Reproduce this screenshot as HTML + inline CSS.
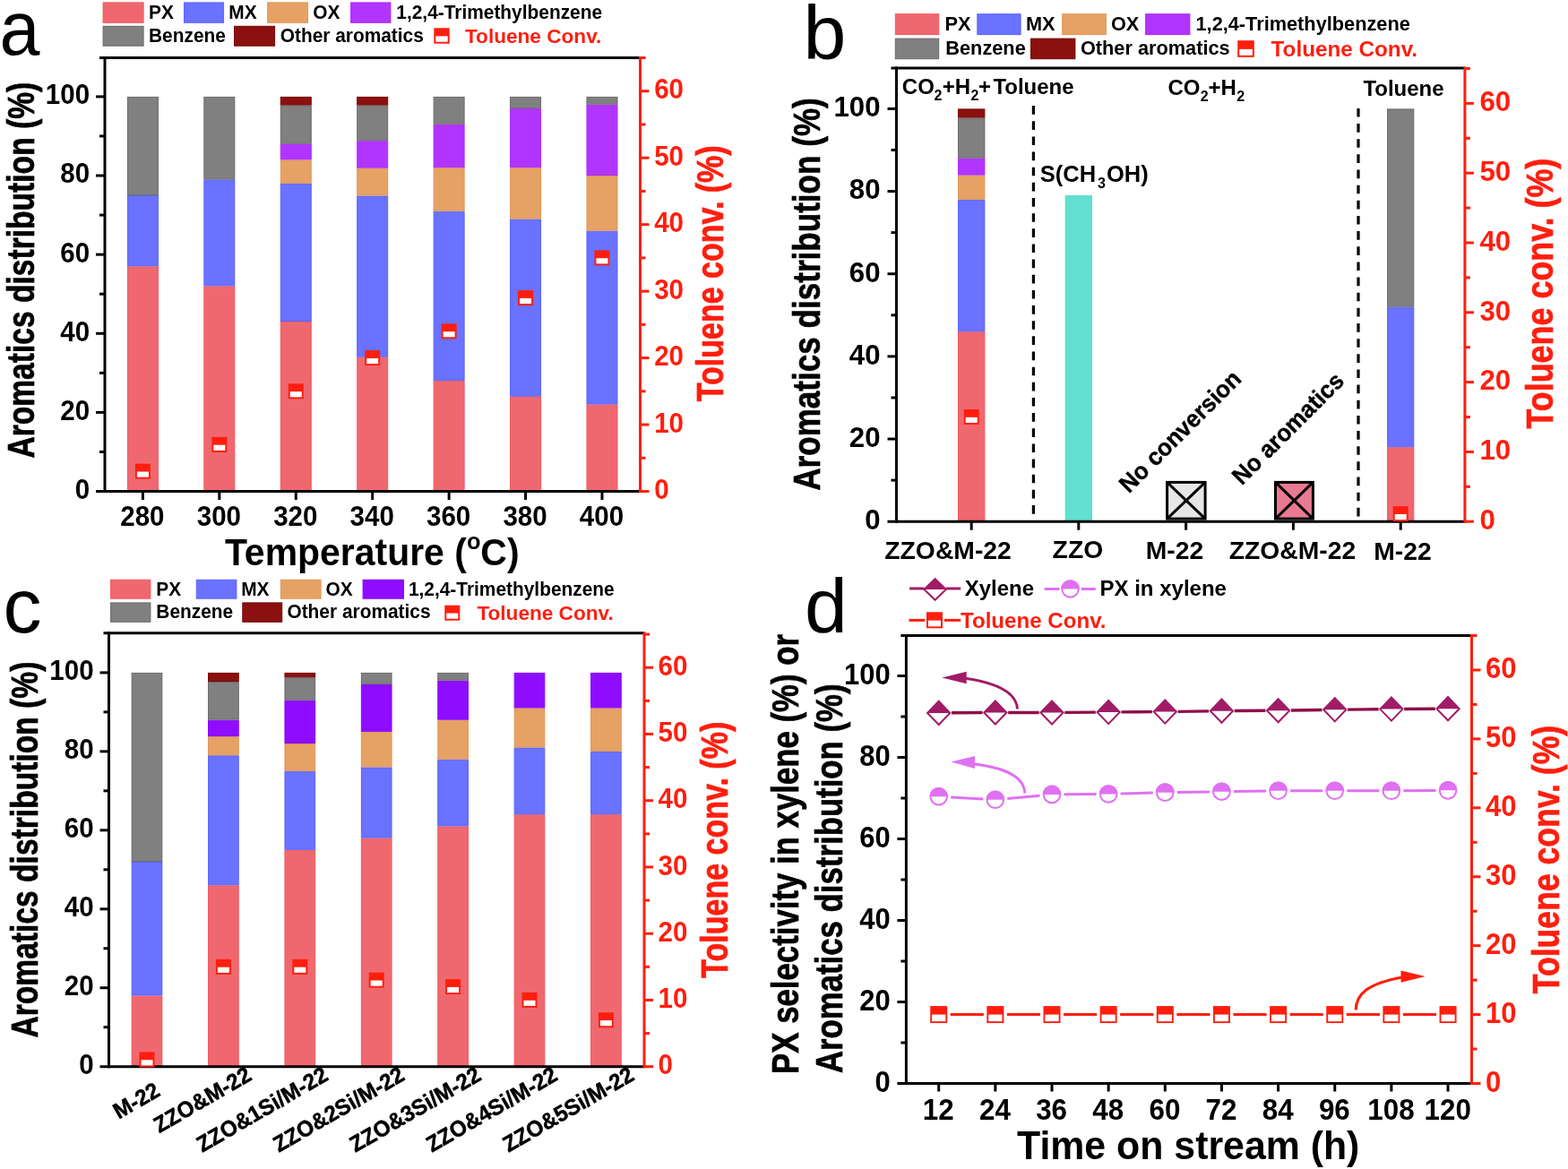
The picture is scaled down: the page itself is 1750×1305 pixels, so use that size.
<!DOCTYPE html>
<html><head><meta charset="utf-8"><title>Figure</title>
<style>html,body{margin:0;padding:0;background:#fff;overflow:hidden;}svg{display:block;}</style></head>
<body><svg width="1750" height="1305" viewBox="0 0 1750 1305" font-family="'Liberation Sans', Arial, sans-serif" font-weight="bold">
<rect width="1750" height="1305" fill="#fff"/>
<text transform="translate(-0.45,60.6) scale(0.94,1)" font-size="86" font-weight="normal">a</text>
<rect x="115.1" y="2.9" width="45" height="22.4" fill="#F0686F" stroke="#F5555C" stroke-width="1"/>
<rect x="205.5" y="2.9" width="44.1" height="22.4" fill="#6A72FF" stroke="#5A64FF" stroke-width="1"/>
<rect x="298.7" y="2.9" width="44.8" height="22.4" fill="#E6A265" stroke="#E39452" stroke-width="1"/>
<rect x="391.6" y="2.9" width="44.3" height="22.4" fill="#B235FF" stroke="#A82AFF" stroke-width="1"/>
<rect x="115.1" y="29.3" width="45" height="21.9" fill="#808080" stroke="#6A6A6A" stroke-width="1"/>
<rect x="261.5" y="29.3" width="45.1" height="21.9" fill="#8B1010" stroke="#780808" stroke-width="1"/>
<text transform="translate(166.1,20.7) scale(0.95,1)" font-size="22">PX</text>
<text transform="translate(255.3,20.7) scale(0.95,1)" font-size="22">MX</text>
<text transform="translate(349.2,20.7) scale(0.95,1)" font-size="22">OX</text>
<text transform="translate(442.3,20.7) scale(0.95,1)" font-size="22">1,2,4-Trimethylbenzene</text>
<text transform="translate(166,46.5) scale(0.95,1)" font-size="22">Benzene</text>
<text transform="translate(312.7,46.5) scale(0.95,1)" font-size="22">Other aromatics</text>
<rect x="484.3" y="31.3" width="17.4" height="17.4" fill="#FF1E0E"/>
<rect x="486.3" y="40.35" width="13.4" height="6.35" fill="#fff"/>
<text x="519" y="47.5" font-size="22.6" fill="#FF1E0E">Toluene Conv.</text>
<rect x="142.4" y="297.86" width="34" height="250.14" fill="#F0686F" stroke="#F5555C" stroke-width="1"/>
<rect x="142.4" y="218.55" width="34" height="78.31" fill="#6A72FF" stroke="#5A64FF" stroke-width="1"/>
<rect x="142.4" y="108.4" width="34" height="109.15" fill="#808080" stroke="#6A6A6A" stroke-width="1"/>
<rect x="227.83" y="319.89" width="34" height="228.11" fill="#F0686F" stroke="#F5555C" stroke-width="1"/>
<rect x="227.83" y="200.93" width="34" height="117.96" fill="#6A72FF" stroke="#5A64FF" stroke-width="1"/>
<rect x="227.83" y="108.4" width="34" height="91.53" fill="#808080" stroke="#6A6A6A" stroke-width="1"/>
<rect x="313.26" y="359.54" width="34" height="188.46" fill="#F0686F" stroke="#F5555C" stroke-width="1"/>
<rect x="313.26" y="205.33" width="34" height="153.21" fill="#6A72FF" stroke="#5A64FF" stroke-width="1"/>
<rect x="313.26" y="178.9" width="34" height="25.44" fill="#E6A265" stroke="#E39452" stroke-width="1"/>
<rect x="313.26" y="161.27" width="34" height="16.62" fill="#B235FF" stroke="#A82AFF" stroke-width="1"/>
<rect x="313.26" y="118.09" width="34" height="42.18" fill="#808080" stroke="#6A6A6A" stroke-width="1"/>
<rect x="313.26" y="108.4" width="34" height="8.69" fill="#8B1010" stroke="#780808" stroke-width="1"/>
<rect x="398.69" y="399.2" width="34" height="148.8" fill="#F0686F" stroke="#F5555C" stroke-width="1"/>
<rect x="398.69" y="218.99" width="34" height="179.21" fill="#6A72FF" stroke="#5A64FF" stroke-width="1"/>
<rect x="398.69" y="188.15" width="34" height="29.84" fill="#E6A265" stroke="#E39452" stroke-width="1"/>
<rect x="398.69" y="157.75" width="34" height="29.4" fill="#B235FF" stroke="#A82AFF" stroke-width="1"/>
<rect x="398.69" y="118.09" width="34" height="38.65" fill="#808080" stroke="#6A6A6A" stroke-width="1"/>
<rect x="398.69" y="108.4" width="34" height="8.69" fill="#8B1010" stroke="#780808" stroke-width="1"/>
<rect x="484.12" y="425.63" width="34" height="122.37" fill="#F0686F" stroke="#F5555C" stroke-width="1"/>
<rect x="484.12" y="236.17" width="34" height="188.46" fill="#6A72FF" stroke="#5A64FF" stroke-width="1"/>
<rect x="484.12" y="187.71" width="34" height="47.47" fill="#E6A265" stroke="#E39452" stroke-width="1"/>
<rect x="484.12" y="139.24" width="34" height="47.47" fill="#B235FF" stroke="#A82AFF" stroke-width="1"/>
<rect x="484.12" y="108.4" width="34" height="29.84" fill="#808080" stroke="#6A6A6A" stroke-width="1"/>
<rect x="569.55" y="443.26" width="34" height="104.74" fill="#F0686F" stroke="#F5555C" stroke-width="1"/>
<rect x="569.55" y="244.99" width="34" height="197.27" fill="#6A72FF" stroke="#5A64FF" stroke-width="1"/>
<rect x="569.55" y="187.71" width="34" height="56.28" fill="#E6A265" stroke="#E39452" stroke-width="1"/>
<rect x="569.55" y="121.62" width="34" height="65.09" fill="#B235FF" stroke="#A82AFF" stroke-width="1"/>
<rect x="569.55" y="108.4" width="34" height="12.22" fill="#808080" stroke="#6A6A6A" stroke-width="1"/>
<rect x="654.98" y="452.07" width="34" height="95.93" fill="#F0686F" stroke="#F5555C" stroke-width="1"/>
<rect x="654.98" y="258.2" width="34" height="192.86" fill="#6A72FF" stroke="#5A64FF" stroke-width="1"/>
<rect x="654.98" y="196.52" width="34" height="60.68" fill="#E6A265" stroke="#E39452" stroke-width="1"/>
<rect x="654.98" y="117.21" width="34" height="78.31" fill="#B235FF" stroke="#A82AFF" stroke-width="1"/>
<rect x="654.98" y="108.4" width="34" height="7.81" fill="#808080" stroke="#6A6A6A" stroke-width="1"/>
<line x1="117" y1="63" x2="117" y2="550" stroke="#000" stroke-width="3"/>
<line x1="111" y1="64.5" x2="714.5" y2="64.5" stroke="#000" stroke-width="3"/>
<line x1="107" y1="548.5" x2="714.5" y2="548.5" stroke="#000" stroke-width="3"/>
<line x1="714.5" y1="63" x2="714.5" y2="550" stroke="#FF1E0E" stroke-width="3"/>
<line x1="159.4" y1="548.5" x2="159.4" y2="558" stroke="#000" stroke-width="3"/>
<text transform="translate(158.9,586.7) scale(0.965,1)" font-size="30.6" text-anchor="middle">280</text>
<line x1="244.83" y1="548.5" x2="244.83" y2="558" stroke="#000" stroke-width="3"/>
<text transform="translate(244.33,586.7) scale(0.965,1)" font-size="30.6" text-anchor="middle">300</text>
<line x1="330.26" y1="548.5" x2="330.26" y2="558" stroke="#000" stroke-width="3"/>
<text transform="translate(329.76,586.7) scale(0.965,1)" font-size="30.6" text-anchor="middle">320</text>
<line x1="415.69" y1="548.5" x2="415.69" y2="558" stroke="#000" stroke-width="3"/>
<text transform="translate(415.19,586.7) scale(0.965,1)" font-size="30.6" text-anchor="middle">340</text>
<line x1="501.12" y1="548.5" x2="501.12" y2="558" stroke="#000" stroke-width="3"/>
<text transform="translate(500.62,586.7) scale(0.965,1)" font-size="30.6" text-anchor="middle">360</text>
<line x1="586.55" y1="548.5" x2="586.55" y2="558" stroke="#000" stroke-width="3"/>
<text transform="translate(586.05,586.7) scale(0.965,1)" font-size="30.6" text-anchor="middle">380</text>
<line x1="671.98" y1="548.5" x2="671.98" y2="558" stroke="#000" stroke-width="3"/>
<text transform="translate(671.48,586.7) scale(0.965,1)" font-size="30.6" text-anchor="middle">400</text>
<rect x="150.9" y="517.66" width="17" height="17" fill="#FF1E0E"/>
<rect x="152.9" y="526.5" width="13" height="6.16" fill="#fff"/>
<rect x="236.33" y="487.88" width="17" height="17" fill="#FF1E0E"/>
<rect x="238.33" y="496.72" width="13" height="6.16" fill="#fff"/>
<rect x="321.76" y="428.31" width="17" height="17" fill="#FF1E0E"/>
<rect x="323.76" y="437.15" width="13" height="6.16" fill="#fff"/>
<rect x="407.19" y="391.08" width="17" height="17" fill="#FF1E0E"/>
<rect x="409.19" y="399.92" width="13" height="6.16" fill="#fff"/>
<rect x="492.62" y="361.3" width="17" height="17" fill="#FF1E0E"/>
<rect x="494.62" y="370.14" width="13" height="6.16" fill="#fff"/>
<rect x="578.05" y="324.07" width="17" height="17" fill="#FF1E0E"/>
<rect x="580.05" y="332.91" width="13" height="6.16" fill="#fff"/>
<rect x="663.48" y="279.39" width="17" height="17" fill="#FF1E0E"/>
<rect x="665.48" y="288.23" width="13" height="6.16" fill="#fff"/>
<text transform="translate(100.1,556.9) scale(0.965,1)" font-size="30.6" text-anchor="end">0</text>
<line x1="107" y1="460.38" x2="117" y2="460.38" stroke="#000" stroke-width="3"/>
<text transform="translate(100.1,468.78) scale(0.965,1)" font-size="30.6" text-anchor="end">20</text>
<line x1="107" y1="372.26" x2="117" y2="372.26" stroke="#000" stroke-width="3"/>
<text transform="translate(100.1,380.66) scale(0.965,1)" font-size="30.6" text-anchor="end">40</text>
<line x1="107" y1="284.14" x2="117" y2="284.14" stroke="#000" stroke-width="3"/>
<text transform="translate(100.1,292.54) scale(0.965,1)" font-size="30.6" text-anchor="end">60</text>
<line x1="107" y1="196.02" x2="117" y2="196.02" stroke="#000" stroke-width="3"/>
<text transform="translate(100.1,204.42) scale(0.965,1)" font-size="30.6" text-anchor="end">80</text>
<line x1="107" y1="107.9" x2="117" y2="107.9" stroke="#000" stroke-width="3"/>
<text transform="translate(100.1,116.3) scale(0.965,1)" font-size="30.6" text-anchor="end">100</text>
<line x1="111" y1="504.44" x2="117" y2="504.44" stroke="#000" stroke-width="3"/>
<line x1="111" y1="416.32" x2="117" y2="416.32" stroke="#000" stroke-width="3"/>
<line x1="111" y1="328.2" x2="117" y2="328.2" stroke="#000" stroke-width="3"/>
<line x1="111" y1="240.08" x2="117" y2="240.08" stroke="#000" stroke-width="3"/>
<line x1="111" y1="151.96" x2="117" y2="151.96" stroke="#000" stroke-width="3"/>
<line x1="714.5" y1="548.5" x2="724.5" y2="548.5" stroke="#FF1E0E" stroke-width="3"/>
<text transform="translate(730.2,557.1) scale(0.965,1)" font-size="30.6" fill="#FF1E0E">0</text>
<line x1="714.5" y1="474.04" x2="724.5" y2="474.04" stroke="#FF1E0E" stroke-width="3"/>
<text transform="translate(730.2,482.64) scale(0.965,1)" font-size="30.6" fill="#FF1E0E">10</text>
<line x1="714.5" y1="399.58" x2="724.5" y2="399.58" stroke="#FF1E0E" stroke-width="3"/>
<text transform="translate(730.2,408.18) scale(0.965,1)" font-size="30.6" fill="#FF1E0E">20</text>
<line x1="714.5" y1="325.12" x2="724.5" y2="325.12" stroke="#FF1E0E" stroke-width="3"/>
<text transform="translate(730.2,333.72) scale(0.965,1)" font-size="30.6" fill="#FF1E0E">30</text>
<line x1="714.5" y1="250.66" x2="724.5" y2="250.66" stroke="#FF1E0E" stroke-width="3"/>
<text transform="translate(730.2,259.26) scale(0.965,1)" font-size="30.6" fill="#FF1E0E">40</text>
<line x1="714.5" y1="176.2" x2="724.5" y2="176.2" stroke="#FF1E0E" stroke-width="3"/>
<text transform="translate(730.2,184.8) scale(0.965,1)" font-size="30.6" fill="#FF1E0E">50</text>
<line x1="714.5" y1="101.74" x2="724.5" y2="101.74" stroke="#FF1E0E" stroke-width="3"/>
<text transform="translate(730.2,110.34) scale(0.965,1)" font-size="30.6" fill="#FF1E0E">60</text>
<line x1="714.5" y1="511.27" x2="720.5" y2="511.27" stroke="#FF1E0E" stroke-width="3"/>
<line x1="714.5" y1="436.81" x2="720.5" y2="436.81" stroke="#FF1E0E" stroke-width="3"/>
<line x1="714.5" y1="362.35" x2="720.5" y2="362.35" stroke="#FF1E0E" stroke-width="3"/>
<line x1="714.5" y1="287.89" x2="720.5" y2="287.89" stroke="#FF1E0E" stroke-width="3"/>
<line x1="714.5" y1="213.43" x2="720.5" y2="213.43" stroke="#FF1E0E" stroke-width="3"/>
<line x1="714.5" y1="138.97" x2="720.5" y2="138.97" stroke="#FF1E0E" stroke-width="3"/>
<line x1="714.5" y1="64.51" x2="720.5" y2="64.51" stroke="#FF1E0E" stroke-width="3"/>
<text transform="translate(38.2,301.7) rotate(-90) scale(0.8,1)" font-size="42" text-anchor="middle" stroke="#000" stroke-width="0.7">Aromatics distribution (%)</text>
<text transform="translate(807.3,305.3) rotate(-90) scale(0.81,1)" font-size="42" text-anchor="middle" fill="#FF1E0E" stroke="#FF1E0E" stroke-width="0.7">Toluene conv. (%)</text>
<text transform="translate(250.9,630.7) scale(0.975,1)" font-size="42">Temperature (<tspan font-size="26" dy="-17.3">o</tspan><tspan dy="17.3">C)</tspan></text>
<text x="896.5" y="66.1" font-size="86" font-weight="normal">b</text>
<rect x="999.3" y="15.7" width="48.4" height="22.9" fill="#F0686F" stroke="#F5555C" stroke-width="1"/>
<rect x="1090.8" y="15.7" width="48.3" height="22.9" fill="#6A72FF" stroke="#5A64FF" stroke-width="1"/>
<rect x="1185.7" y="15.7" width="48.7" height="22.9" fill="#E6A265" stroke="#E39452" stroke-width="1"/>
<rect x="1278.6" y="15.7" width="49.3" height="22.9" fill="#B235FF" stroke="#A82AFF" stroke-width="1"/>
<rect x="999.3" y="43.1" width="48.4" height="22.6" fill="#808080" stroke="#6A6A6A" stroke-width="1"/>
<rect x="1150.4" y="43.1" width="49.5" height="22.6" fill="#8B1010" stroke="#780808" stroke-width="1"/>
<text transform="translate(1054.6,34) scale(0.98,1)" font-size="22.2">PX</text>
<text transform="translate(1145,34) scale(0.98,1)" font-size="22.2">MX</text>
<text transform="translate(1239.9,34) scale(0.98,1)" font-size="22.2">OX</text>
<text transform="translate(1334.5,34) scale(0.98,1)" font-size="22.2">1,2,4-Trimethylbenzene</text>
<text transform="translate(1055.3,61.2) scale(0.98,1)" font-size="22.2">Benzene</text>
<text transform="translate(1205.9,61.2) scale(0.98,1)" font-size="22.2">Other aromatics</text>
<rect x="1381.2" y="45.2" width="18.6" height="18.6" fill="#FF1E0E"/>
<rect x="1383.2" y="54.87" width="14.6" height="6.93" fill="#fff"/>
<text transform="translate(1418.6,63) scale(1.02,1)" font-size="23.8" fill="#FF1E0E">Toluene Conv.</text>
<rect x="1069.5" y="370.73" width="29.4" height="210.97" fill="#F0686F" stroke="#F5555C" stroke-width="1"/>
<rect x="1069.5" y="223.28" width="29.4" height="146.46" fill="#6A72FF" stroke="#5A64FF" stroke-width="1"/>
<rect x="1069.5" y="196.09" width="29.4" height="26.19" fill="#E6A265" stroke="#E39452" stroke-width="1"/>
<rect x="1069.5" y="177.2" width="29.4" height="17.89" fill="#B235FF" stroke="#A82AFF" stroke-width="1"/>
<rect x="1069.5" y="132.04" width="29.4" height="44.16" fill="#808080" stroke="#6A6A6A" stroke-width="1"/>
<rect x="1069.5" y="121.9" width="29.4" height="9.14" fill="#8B1010" stroke="#780808" stroke-width="1"/>
<rect x="1189.2" y="218.67" width="29.2" height="363.03" fill="#62E0D2" stroke="#52DCCB" stroke-width="1"/>
<rect x="1548.6" y="499.76" width="29.2" height="81.94" fill="#F0686F" stroke="#F5555C" stroke-width="1"/>
<rect x="1548.6" y="343.08" width="29.2" height="155.67" fill="#6A72FF" stroke="#5A64FF" stroke-width="1"/>
<rect x="1548.6" y="121.9" width="29.2" height="220.18" fill="#808080" stroke="#6A6A6A" stroke-width="1"/>
<rect x="1302.6" y="538.4" width="42.5" height="40.7" fill="#E6E6E6" stroke="#000" stroke-width="3"/>
<line x1="1303.1" y1="538.9" x2="1344.6" y2="578.6" stroke="#000" stroke-width="3"/>
<line x1="1303.1" y1="578.6" x2="1344.6" y2="538.9" stroke="#000" stroke-width="3"/>
<rect x="1423.5" y="538.4" width="41.9" height="40.7" fill="#E87A92" stroke="#000" stroke-width="3"/>
<line x1="1424" y1="538.9" x2="1464.9" y2="578.6" stroke="#000" stroke-width="3"/>
<line x1="1424" y1="578.6" x2="1464.9" y2="538.9" stroke="#000" stroke-width="3"/>
<line x1="1153.4" y1="118.1" x2="1153.4" y2="582.2" stroke="#000" stroke-width="3.2" stroke-dasharray="9.65,7.5"/>
<line x1="1516" y1="120.9" x2="1516" y2="582.2" stroke="#000" stroke-width="3.2" stroke-dasharray="9.65,7.5"/>
<line x1="1000.5" y1="74.6" x2="1000.5" y2="583.7" stroke="#000" stroke-width="3"/>
<line x1="994.5" y1="76.1" x2="1634.9" y2="76.1" stroke="#000" stroke-width="3"/>
<line x1="990.5" y1="582.2" x2="1634.9" y2="582.2" stroke="#000" stroke-width="3"/>
<line x1="1634.9" y1="74.6" x2="1634.9" y2="583.7" stroke="#FF1E0E" stroke-width="3"/>
<line x1="1084.2" y1="582.2" x2="1084.2" y2="591.7" stroke="#000" stroke-width="3"/>
<line x1="1203.8" y1="582.2" x2="1203.8" y2="591.7" stroke="#000" stroke-width="3"/>
<line x1="1323.6" y1="582.2" x2="1323.6" y2="591.7" stroke="#000" stroke-width="3"/>
<line x1="1443.4" y1="582.2" x2="1443.4" y2="591.7" stroke="#000" stroke-width="3"/>
<line x1="1563.2" y1="582.2" x2="1563.2" y2="591.7" stroke="#000" stroke-width="3"/>
<rect x="1075.7" y="457" width="17" height="17" fill="#FF1E0E"/>
<rect x="1077.7" y="465.84" width="13" height="6.16" fill="#fff"/>
<rect x="1554.7" y="565.14" width="17" height="17" fill="#FF1E0E"/>
<rect x="1556.7" y="573.98" width="13" height="6.16" fill="#fff"/>
<text transform="translate(982.6,591) scale(0.97,1)" font-size="32.2" text-anchor="end">0</text>
<line x1="990.5" y1="490.04" x2="1000.5" y2="490.04" stroke="#000" stroke-width="3"/>
<text transform="translate(982.6,498.84) scale(0.97,1)" font-size="32.2" text-anchor="end">20</text>
<line x1="990.5" y1="397.88" x2="1000.5" y2="397.88" stroke="#000" stroke-width="3"/>
<text transform="translate(982.6,406.68) scale(0.97,1)" font-size="32.2" text-anchor="end">40</text>
<line x1="990.5" y1="305.72" x2="1000.5" y2="305.72" stroke="#000" stroke-width="3"/>
<text transform="translate(982.6,314.52) scale(0.97,1)" font-size="32.2" text-anchor="end">60</text>
<line x1="990.5" y1="213.56" x2="1000.5" y2="213.56" stroke="#000" stroke-width="3"/>
<text transform="translate(982.6,222.36) scale(0.97,1)" font-size="32.2" text-anchor="end">80</text>
<line x1="990.5" y1="121.4" x2="1000.5" y2="121.4" stroke="#000" stroke-width="3"/>
<text transform="translate(982.6,130.2) scale(0.97,1)" font-size="32.2" text-anchor="end">100</text>
<line x1="994.5" y1="536.12" x2="1000.5" y2="536.12" stroke="#000" stroke-width="3"/>
<line x1="994.5" y1="443.96" x2="1000.5" y2="443.96" stroke="#000" stroke-width="3"/>
<line x1="994.5" y1="351.8" x2="1000.5" y2="351.8" stroke="#000" stroke-width="3"/>
<line x1="994.5" y1="259.64" x2="1000.5" y2="259.64" stroke="#000" stroke-width="3"/>
<line x1="994.5" y1="167.48" x2="1000.5" y2="167.48" stroke="#000" stroke-width="3"/>
<line x1="1634.9" y1="582.2" x2="1644.9" y2="582.2" stroke="#FF1E0E" stroke-width="3"/>
<text transform="translate(1651.4,591) scale(0.97,1)" font-size="32.2" fill="#FF1E0E">0</text>
<line x1="1634.9" y1="504.4" x2="1644.9" y2="504.4" stroke="#FF1E0E" stroke-width="3"/>
<text transform="translate(1651.4,513.2) scale(0.97,1)" font-size="32.2" fill="#FF1E0E">10</text>
<line x1="1634.9" y1="426.6" x2="1644.9" y2="426.6" stroke="#FF1E0E" stroke-width="3"/>
<text transform="translate(1651.4,435.4) scale(0.97,1)" font-size="32.2" fill="#FF1E0E">20</text>
<line x1="1634.9" y1="348.8" x2="1644.9" y2="348.8" stroke="#FF1E0E" stroke-width="3"/>
<text transform="translate(1651.4,357.6) scale(0.97,1)" font-size="32.2" fill="#FF1E0E">30</text>
<line x1="1634.9" y1="271" x2="1644.9" y2="271" stroke="#FF1E0E" stroke-width="3"/>
<text transform="translate(1651.4,279.8) scale(0.97,1)" font-size="32.2" fill="#FF1E0E">40</text>
<line x1="1634.9" y1="193.2" x2="1644.9" y2="193.2" stroke="#FF1E0E" stroke-width="3"/>
<text transform="translate(1651.4,202) scale(0.97,1)" font-size="32.2" fill="#FF1E0E">50</text>
<line x1="1634.9" y1="115.4" x2="1644.9" y2="115.4" stroke="#FF1E0E" stroke-width="3"/>
<text transform="translate(1651.4,124.2) scale(0.97,1)" font-size="32.2" fill="#FF1E0E">60</text>
<line x1="1634.9" y1="543.3" x2="1640.9" y2="543.3" stroke="#FF1E0E" stroke-width="3"/>
<line x1="1634.9" y1="465.5" x2="1640.9" y2="465.5" stroke="#FF1E0E" stroke-width="3"/>
<line x1="1634.9" y1="387.7" x2="1640.9" y2="387.7" stroke="#FF1E0E" stroke-width="3"/>
<line x1="1634.9" y1="309.9" x2="1640.9" y2="309.9" stroke="#FF1E0E" stroke-width="3"/>
<line x1="1634.9" y1="232.1" x2="1640.9" y2="232.1" stroke="#FF1E0E" stroke-width="3"/>
<line x1="1634.9" y1="154.3" x2="1640.9" y2="154.3" stroke="#FF1E0E" stroke-width="3"/>
<line x1="1634.9" y1="76.5" x2="1640.9" y2="76.5" stroke="#FF1E0E" stroke-width="3"/>
<text x="987.3" y="624.4" font-size="28.3">ZZO&amp;M-22</text>
<text x="1174.6" y="622.9" font-size="28.3">ZZO</text>
<text x="1278.8" y="624.1" font-size="28.3">M-22</text>
<text x="1371.7" y="624.1" font-size="28.3">ZZO&amp;M-22</text>
<text x="1533.3" y="625" font-size="28.3">M-22</text>
<text x="1006.8" y="105.3" font-size="24">CO</text>
<text x="1042.6" y="111.8" font-size="16">2</text>
<text x="1051.8" y="105.3" font-size="24">+H</text>
<text x="1083.5" y="111.8" font-size="16">2</text>
<text x="1092.1" y="105.3" font-size="24">+</text>
<text x="1108.4" y="105.3" font-size="24">Toluene</text>
<text x="1303.5" y="106.2" font-size="24">CO</text>
<text x="1339.7" y="112.8" font-size="16">2</text>
<text x="1348.4" y="106.2" font-size="24">+H</text>
<text x="1380.2" y="112.8" font-size="16">2</text>
<text x="1521.4" y="107.3" font-size="24">Toluene</text>
<text x="1160.8" y="203" font-size="25.5">S(CH</text>
<text x="1225.1" y="210.2" font-size="16">3</text>
<text x="1235" y="203" font-size="25.5">OH)</text>
<text transform="translate(1260,551.5) rotate(-45) scale(0.96,1)" font-size="26.9" stroke="#000" stroke-width="0.4">No conversion</text>
<text transform="translate(1386,542.5) rotate(-45) scale(0.96,1)" font-size="26.9" stroke="#000" stroke-width="0.4">No aromatics</text>
<text transform="translate(915.3,328.5) rotate(-90) scale(0.816,1)" font-size="43" text-anchor="middle" stroke="#000" stroke-width="0.7">Aromatics distribution (%)</text>
<text transform="translate(1733.1,327.6) rotate(-90) scale(0.835,1)" font-size="43" text-anchor="middle" fill="#FF1E0E" stroke="#FF1E0E" stroke-width="0.7">Toluene conv. (%)</text>
<text x="3.5" y="705.8" font-size="86" font-weight="normal">c</text>
<rect x="123.6" y="647.3" width="44.3" height="20.9" fill="#F0686F" stroke="#F5555C" stroke-width="1"/>
<rect x="219.3" y="647.3" width="44.6" height="20.9" fill="#6A72FF" stroke="#5A64FF" stroke-width="1"/>
<rect x="313.3" y="647.3" width="44.8" height="20.9" fill="#E6A265" stroke="#E39452" stroke-width="1"/>
<rect x="405.1" y="647.3" width="45.4" height="20.9" fill="#8F0DFF" stroke="#8508FF" stroke-width="1"/>
<rect x="123.6" y="672.9" width="44.3" height="21.4" fill="#808080" stroke="#6A6A6A" stroke-width="1"/>
<rect x="270.8" y="672.9" width="43.9" height="21.4" fill="#8B1010" stroke="#780808" stroke-width="1"/>
<text transform="translate(174.3,664.5) scale(0.95,1)" font-size="22">PX</text>
<text transform="translate(269.2,664.5) scale(0.95,1)" font-size="22">MX</text>
<text transform="translate(363.6,664.5) scale(0.95,1)" font-size="22">OX</text>
<text transform="translate(455.9,664.5) scale(0.95,1)" font-size="22">1,2,4-Trimethylbenzene</text>
<text transform="translate(174.3,689.8) scale(0.95,1)" font-size="22">Benzene</text>
<text transform="translate(320.4,689.8) scale(0.95,1)" font-size="22">Other aromatics</text>
<rect x="496.3" y="675.7" width="17" height="17" fill="#FF1E0E"/>
<rect x="498.3" y="684.54" width="13" height="6.16" fill="#fff"/>
<text x="532.4" y="691.5" font-size="22.6" fill="#FF1E0E">Toluene Conv.</text>
<rect x="147.15" y="1112.04" width="33.7" height="78.16" fill="#F0686F" stroke="#F5555C" stroke-width="1"/>
<rect x="147.15" y="962.5" width="33.7" height="148.53" fill="#6A72FF" stroke="#5A64FF" stroke-width="1"/>
<rect x="147.15" y="751.4" width="33.7" height="210.1" fill="#808080" stroke="#6A6A6A" stroke-width="1"/>
<rect x="232.55" y="988.89" width="33.7" height="201.31" fill="#F0686F" stroke="#F5555C" stroke-width="1"/>
<rect x="232.55" y="843.76" width="33.7" height="144.13" fill="#6A72FF" stroke="#5A64FF" stroke-width="1"/>
<rect x="232.55" y="822.65" width="33.7" height="20.11" fill="#E6A265" stroke="#E39452" stroke-width="1"/>
<rect x="232.55" y="804.18" width="33.7" height="17.47" fill="#8F0DFF" stroke="#8508FF" stroke-width="1"/>
<rect x="232.55" y="761.52" width="33.7" height="41.66" fill="#808080" stroke="#6A6A6A" stroke-width="1"/>
<rect x="232.55" y="751.4" width="33.7" height="9.12" fill="#8B1010" stroke="#780808" stroke-width="1"/>
<rect x="317.95" y="949.31" width="33.7" height="240.89" fill="#F0686F" stroke="#F5555C" stroke-width="1"/>
<rect x="317.95" y="861.35" width="33.7" height="86.96" fill="#6A72FF" stroke="#5A64FF" stroke-width="1"/>
<rect x="317.95" y="830.56" width="33.7" height="29.79" fill="#E6A265" stroke="#E39452" stroke-width="1"/>
<rect x="317.95" y="782.19" width="33.7" height="47.38" fill="#8F0DFF" stroke="#8508FF" stroke-width="1"/>
<rect x="317.95" y="756.68" width="33.7" height="24.51" fill="#808080" stroke="#6A6A6A" stroke-width="1"/>
<rect x="317.95" y="751.4" width="33.7" height="4.28" fill="#8B1010" stroke="#780808" stroke-width="1"/>
<rect x="403.35" y="936.12" width="33.7" height="254.08" fill="#F0686F" stroke="#F5555C" stroke-width="1"/>
<rect x="403.35" y="856.95" width="33.7" height="78.16" fill="#6A72FF" stroke="#5A64FF" stroke-width="1"/>
<rect x="403.35" y="817.37" width="33.7" height="38.58" fill="#E6A265" stroke="#E39452" stroke-width="1"/>
<rect x="403.35" y="764.59" width="33.7" height="51.78" fill="#8F0DFF" stroke="#8508FF" stroke-width="1"/>
<rect x="403.35" y="751.4" width="33.7" height="12.19" fill="#808080" stroke="#6A6A6A" stroke-width="1"/>
<rect x="488.75" y="922.92" width="33.7" height="267.28" fill="#F0686F" stroke="#F5555C" stroke-width="1"/>
<rect x="488.75" y="848.16" width="33.7" height="73.77" fill="#6A72FF" stroke="#5A64FF" stroke-width="1"/>
<rect x="488.75" y="804.18" width="33.7" height="42.98" fill="#E6A265" stroke="#E39452" stroke-width="1"/>
<rect x="488.75" y="760.2" width="33.7" height="42.98" fill="#8F0DFF" stroke="#8508FF" stroke-width="1"/>
<rect x="488.75" y="751.4" width="33.7" height="7.8" fill="#808080" stroke="#6A6A6A" stroke-width="1"/>
<rect x="574.15" y="909.73" width="33.7" height="280.47" fill="#F0686F" stroke="#F5555C" stroke-width="1"/>
<rect x="574.15" y="834.96" width="33.7" height="73.77" fill="#6A72FF" stroke="#5A64FF" stroke-width="1"/>
<rect x="574.15" y="790.98" width="33.7" height="42.98" fill="#E6A265" stroke="#E39452" stroke-width="1"/>
<rect x="574.15" y="751.4" width="33.7" height="38.58" fill="#8F0DFF" stroke="#8508FF" stroke-width="1"/>
<rect x="659.55" y="909.73" width="33.7" height="280.47" fill="#F0686F" stroke="#F5555C" stroke-width="1"/>
<rect x="659.55" y="839.36" width="33.7" height="69.37" fill="#6A72FF" stroke="#5A64FF" stroke-width="1"/>
<rect x="659.55" y="790.98" width="33.7" height="47.38" fill="#E6A265" stroke="#E39452" stroke-width="1"/>
<rect x="659.55" y="751.4" width="33.7" height="38.58" fill="#8F0DFF" stroke="#8508FF" stroke-width="1"/>
<line x1="121.5" y1="705.3" x2="121.5" y2="1192.2" stroke="#000" stroke-width="3"/>
<line x1="115.5" y1="706.8" x2="719" y2="706.8" stroke="#000" stroke-width="3"/>
<line x1="111.5" y1="1190.7" x2="719" y2="1190.7" stroke="#000" stroke-width="3"/>
<line x1="719" y1="705.3" x2="719" y2="1192.2" stroke="#FF1E0E" stroke-width="3"/>
<rect x="155.5" y="1174.4" width="17" height="17" fill="#FF1E0E"/>
<rect x="157.5" y="1183.24" width="13" height="6.16" fill="#fff"/>
<text transform="translate(180.2,1222.2) rotate(-30) scale(0.968,1)" font-size="25" text-anchor="end" stroke="#000" stroke-width="0.5">M-22</text>
<rect x="240.9" y="1070.83" width="17" height="17" fill="#FF1E0E"/>
<rect x="242.9" y="1079.66" width="13" height="6.16" fill="#fff"/>
<text transform="translate(282.4,1204.8) rotate(-30) scale(0.968,1)" font-size="25" text-anchor="end" stroke="#000" stroke-width="0.5">ZZO&amp;M-22</text>
<rect x="326.3" y="1070.83" width="17" height="17" fill="#FF1E0E"/>
<rect x="328.3" y="1079.66" width="13" height="6.16" fill="#fff"/>
<text transform="translate(367.8,1204.8) rotate(-30) scale(0.968,1)" font-size="25" text-anchor="end" stroke="#000" stroke-width="0.5">ZZO&amp;1Si/M-22</text>
<rect x="411.7" y="1085.67" width="17" height="17" fill="#FF1E0E"/>
<rect x="413.7" y="1094.51" width="13" height="6.16" fill="#fff"/>
<text transform="translate(453.2,1204.8) rotate(-30) scale(0.968,1)" font-size="25" text-anchor="end" stroke="#000" stroke-width="0.5">ZZO&amp;2Si/M-22</text>
<rect x="497.1" y="1093.1" width="17" height="17" fill="#FF1E0E"/>
<rect x="499.1" y="1101.94" width="13" height="6.16" fill="#fff"/>
<text transform="translate(538.6,1204.8) rotate(-30) scale(0.968,1)" font-size="25" text-anchor="end" stroke="#000" stroke-width="0.5">ZZO&amp;3Si/M-22</text>
<rect x="582.5" y="1107.95" width="17" height="17" fill="#FF1E0E"/>
<rect x="584.5" y="1116.79" width="13" height="6.16" fill="#fff"/>
<text transform="translate(624,1204.8) rotate(-30) scale(0.968,1)" font-size="25" text-anchor="end" stroke="#000" stroke-width="0.5">ZZO&amp;4Si/M-22</text>
<rect x="667.9" y="1130.23" width="17" height="17" fill="#FF1E0E"/>
<rect x="669.9" y="1139.07" width="13" height="6.16" fill="#fff"/>
<text transform="translate(709.4,1204.8) rotate(-30) scale(0.968,1)" font-size="25" text-anchor="end" stroke="#000" stroke-width="0.5">ZZO&amp;5Si/M-22</text>
<text transform="translate(104.6,1198.9) scale(0.965,1)" font-size="30.6" text-anchor="end">0</text>
<line x1="111.5" y1="1102.74" x2="121.5" y2="1102.74" stroke="#000" stroke-width="3"/>
<text transform="translate(104.6,1110.94) scale(0.965,1)" font-size="30.6" text-anchor="end">20</text>
<line x1="111.5" y1="1014.78" x2="121.5" y2="1014.78" stroke="#000" stroke-width="3"/>
<text transform="translate(104.6,1022.98) scale(0.965,1)" font-size="30.6" text-anchor="end">40</text>
<line x1="111.5" y1="926.82" x2="121.5" y2="926.82" stroke="#000" stroke-width="3"/>
<text transform="translate(104.6,935.02) scale(0.965,1)" font-size="30.6" text-anchor="end">60</text>
<line x1="111.5" y1="838.86" x2="121.5" y2="838.86" stroke="#000" stroke-width="3"/>
<text transform="translate(104.6,847.06) scale(0.965,1)" font-size="30.6" text-anchor="end">80</text>
<line x1="111.5" y1="750.9" x2="121.5" y2="750.9" stroke="#000" stroke-width="3"/>
<text transform="translate(104.6,759.1) scale(0.965,1)" font-size="30.6" text-anchor="end">100</text>
<line x1="115.5" y1="1146.72" x2="121.5" y2="1146.72" stroke="#000" stroke-width="3"/>
<line x1="115.5" y1="1058.76" x2="121.5" y2="1058.76" stroke="#000" stroke-width="3"/>
<line x1="115.5" y1="970.8" x2="121.5" y2="970.8" stroke="#000" stroke-width="3"/>
<line x1="115.5" y1="882.84" x2="121.5" y2="882.84" stroke="#000" stroke-width="3"/>
<line x1="115.5" y1="794.88" x2="121.5" y2="794.88" stroke="#000" stroke-width="3"/>
<line x1="719" y1="1190.7" x2="729" y2="1190.7" stroke="#FF1E0E" stroke-width="3"/>
<text transform="translate(734.6,1199.3) scale(0.965,1)" font-size="30.6" fill="#FF1E0E">0</text>
<line x1="719" y1="1116.45" x2="729" y2="1116.45" stroke="#FF1E0E" stroke-width="3"/>
<text transform="translate(734.6,1125.05) scale(0.965,1)" font-size="30.6" fill="#FF1E0E">10</text>
<line x1="719" y1="1042.2" x2="729" y2="1042.2" stroke="#FF1E0E" stroke-width="3"/>
<text transform="translate(734.6,1050.8) scale(0.965,1)" font-size="30.6" fill="#FF1E0E">20</text>
<line x1="719" y1="967.95" x2="729" y2="967.95" stroke="#FF1E0E" stroke-width="3"/>
<text transform="translate(734.6,976.55) scale(0.965,1)" font-size="30.6" fill="#FF1E0E">30</text>
<line x1="719" y1="893.7" x2="729" y2="893.7" stroke="#FF1E0E" stroke-width="3"/>
<text transform="translate(734.6,902.3) scale(0.965,1)" font-size="30.6" fill="#FF1E0E">40</text>
<line x1="719" y1="819.45" x2="729" y2="819.45" stroke="#FF1E0E" stroke-width="3"/>
<text transform="translate(734.6,828.05) scale(0.965,1)" font-size="30.6" fill="#FF1E0E">50</text>
<line x1="719" y1="745.2" x2="729" y2="745.2" stroke="#FF1E0E" stroke-width="3"/>
<text transform="translate(734.6,753.8) scale(0.965,1)" font-size="30.6" fill="#FF1E0E">60</text>
<line x1="719" y1="1153.58" x2="725" y2="1153.58" stroke="#FF1E0E" stroke-width="3"/>
<line x1="719" y1="1079.33" x2="725" y2="1079.33" stroke="#FF1E0E" stroke-width="3"/>
<line x1="719" y1="1005.08" x2="725" y2="1005.08" stroke="#FF1E0E" stroke-width="3"/>
<line x1="719" y1="930.83" x2="725" y2="930.83" stroke="#FF1E0E" stroke-width="3"/>
<line x1="719" y1="856.58" x2="725" y2="856.58" stroke="#FF1E0E" stroke-width="3"/>
<line x1="719" y1="782.33" x2="725" y2="782.33" stroke="#FF1E0E" stroke-width="3"/>
<line x1="719" y1="708.08" x2="725" y2="708.08" stroke="#FF1E0E" stroke-width="3"/>
<text transform="translate(41.5,948.6) rotate(-90) scale(0.8,1)" font-size="42" text-anchor="middle" stroke="#000" stroke-width="0.7">Aromatics distribution (%)</text>
<text transform="translate(811.7,948.75) rotate(-90) scale(0.81,1)" font-size="42" text-anchor="middle" fill="#FF1E0E" stroke="#FF1E0E" stroke-width="0.7">Toluene conv. (%)</text>
<text x="898" y="705.6" font-size="86" font-weight="normal">d</text>
<line x1="1015.1" y1="657" x2="1031.4" y2="657" stroke="#A01C66" stroke-width="3"/>
<line x1="1055.7" y1="657" x2="1072.2" y2="657" stroke="#A01C66" stroke-width="3"/>
<path d="M1031.4,658 L1043.6,646.2 L1055.8,658 L1043.6,669.8 Z" fill="#fff" stroke="#A01C66" stroke-width="2"/>
<path d="M1031.4,658 L1043.6,646.2 L1055.8,658 Z" fill="#A01C66"/>
<text x="1076.7" y="665" font-size="24">Xylene</text>
<line x1="1165.7" y1="657.5" x2="1182.5" y2="657.5" stroke="#E070F2" stroke-width="3"/>
<line x1="1206.8" y1="657.5" x2="1222.8" y2="657.5" stroke="#E070F2" stroke-width="3"/>
<circle cx="1194.5" cy="657.5" r="9.2" fill="#fff" stroke="#E070F2" stroke-width="2"/>
<path d="M1184.3,657.5 A10.2,10.2 0 0 1 1204.7,657.5 Z" fill="#E070F2"/>
<text x="1227.5" y="665" font-size="24">PX in xylene</text>
<line x1="1014.5" y1="692.4" x2="1032" y2="692.4" stroke="#FF1E0E" stroke-width="3"/>
<line x1="1054" y1="692.4" x2="1072.2" y2="692.4" stroke="#FF1E0E" stroke-width="3"/>
<rect x="1034" y="683.3" width="18" height="18" fill="#FF1E0E"/>
<rect x="1036" y="692.66" width="14" height="6.64" fill="#fff"/>
<text transform="translate(1072,701) scale(0.985,1)" font-size="24.5" fill="#FF1E0E">Toluene Conv.</text>
<line x1="1011.4" y1="708" x2="1011.4" y2="1211" stroke="#000" stroke-width="3"/>
<line x1="1005.4" y1="709.5" x2="1642.5" y2="709.5" stroke="#000" stroke-width="3"/>
<line x1="1001.4" y1="1209.5" x2="1642.5" y2="1209.5" stroke="#000" stroke-width="3"/>
<line x1="1642.5" y1="708" x2="1642.5" y2="1211" stroke="#FF1E0E" stroke-width="3"/>
<line x1="1062" y1="795.8" x2="1096.55" y2="795.55" stroke="#8E0E48" stroke-width="3.4"/>
<line x1="1125.15" y1="795.45" x2="1159.7" y2="795.45" stroke="#8E0E48" stroke-width="3.4"/>
<line x1="1188.3" y1="795.35" x2="1222.85" y2="795.1" stroke="#8E0E48" stroke-width="3.4"/>
<line x1="1251.45" y1="794.89" x2="1286" y2="794.64" stroke="#8E0E48" stroke-width="3.4"/>
<line x1="1314.6" y1="794.33" x2="1349.15" y2="793.84" stroke="#8E0E48" stroke-width="3.4"/>
<line x1="1377.75" y1="793.53" x2="1412.3" y2="793.28" stroke="#8E0E48" stroke-width="3.4"/>
<line x1="1440.9" y1="792.97" x2="1475.45" y2="792.47" stroke="#8E0E48" stroke-width="3.4"/>
<line x1="1504.05" y1="792.11" x2="1538.6" y2="791.74" stroke="#8E0E48" stroke-width="3.4"/>
<line x1="1567.2" y1="791.48" x2="1601.75" y2="791.23" stroke="#8E0E48" stroke-width="3.4"/>
<line x1="1061.18" y1="889.96" x2="1097.37" y2="892.04" stroke="#E070F2" stroke-width="3"/>
<line x1="1124.29" y1="891.56" x2="1160.56" y2="888.16" stroke="#E070F2" stroke-width="3"/>
<line x1="1187.5" y1="886.81" x2="1223.65" y2="886.55" stroke="#E070F2" stroke-width="3"/>
<line x1="1250.64" y1="886.06" x2="1286.81" y2="885.02" stroke="#E070F2" stroke-width="3"/>
<line x1="1313.8" y1="884.44" x2="1349.95" y2="883.91" stroke="#E070F2" stroke-width="3"/>
<line x1="1376.95" y1="883.53" x2="1413.1" y2="883" stroke="#E070F2" stroke-width="3"/>
<line x1="1440.1" y1="882.81" x2="1476.25" y2="882.81" stroke="#E070F2" stroke-width="3"/>
<line x1="1503.25" y1="882.81" x2="1539.4" y2="882.81" stroke="#E070F2" stroke-width="3"/>
<line x1="1566.4" y1="882.71" x2="1602.55" y2="882.45" stroke="#E070F2" stroke-width="3"/>
<line x1="1060.7" y1="1132.58" x2="1097.85" y2="1132.58" stroke="#FF1E0E" stroke-width="3"/>
<line x1="1123.85" y1="1132.58" x2="1161" y2="1132.58" stroke="#FF1E0E" stroke-width="3"/>
<line x1="1187" y1="1132.58" x2="1224.15" y2="1132.58" stroke="#FF1E0E" stroke-width="3"/>
<line x1="1250.15" y1="1132.58" x2="1287.3" y2="1132.58" stroke="#FF1E0E" stroke-width="3"/>
<line x1="1313.3" y1="1132.58" x2="1350.45" y2="1132.58" stroke="#FF1E0E" stroke-width="3"/>
<line x1="1376.45" y1="1132.58" x2="1413.6" y2="1132.58" stroke="#FF1E0E" stroke-width="3"/>
<line x1="1439.6" y1="1132.58" x2="1476.75" y2="1132.58" stroke="#FF1E0E" stroke-width="3"/>
<line x1="1502.75" y1="1132.58" x2="1539.9" y2="1132.58" stroke="#FF1E0E" stroke-width="3"/>
<line x1="1565.9" y1="1132.58" x2="1603.05" y2="1132.58" stroke="#FF1E0E" stroke-width="3"/>
<path d="M1035.1,795.9 L1047.7,782.8 L1060.3,795.9 L1047.7,809 Z" fill="#fff" stroke="#A01C66" stroke-width="2"/>
<path d="M1035.1,795.9 L1047.7,782.8 L1060.3,795.9 Z" fill="#A01C66"/>
<circle cx="1047.7" cy="889.18" r="9.3" fill="#fff" stroke="#E070F2" stroke-width="2"/>
<path d="M1037.4,889.18 A10.3,10.3 0 0 1 1058,889.18 Z" fill="#E070F2"/>
<rect x="1038.2" y="1123.08" width="19" height="19" fill="#FF1E0E"/>
<rect x="1040.1" y="1132.58" width="15.2" height="7.6" fill="#fff"/>
<path d="M1098.25,795.45 L1110.85,782.35 L1123.45,795.45 L1110.85,808.55 Z" fill="#fff" stroke="#A01C66" stroke-width="2"/>
<path d="M1098.25,795.45 L1110.85,782.35 L1123.45,795.45 Z" fill="#A01C66"/>
<circle cx="1110.85" cy="892.82" r="9.3" fill="#fff" stroke="#E070F2" stroke-width="2"/>
<path d="M1100.55,892.82 A10.3,10.3 0 0 1 1121.15,892.82 Z" fill="#E070F2"/>
<rect x="1101.35" y="1123.08" width="19" height="19" fill="#FF1E0E"/>
<rect x="1103.25" y="1132.58" width="15.2" height="7.6" fill="#fff"/>
<path d="M1161.4,795.45 L1174,782.35 L1186.6,795.45 L1174,808.55 Z" fill="#fff" stroke="#A01C66" stroke-width="2"/>
<path d="M1161.4,795.45 L1174,782.35 L1186.6,795.45 Z" fill="#A01C66"/>
<circle cx="1174" cy="886.9" r="9.3" fill="#fff" stroke="#E070F2" stroke-width="2"/>
<path d="M1163.7,886.9 A10.3,10.3 0 0 1 1184.3,886.9 Z" fill="#E070F2"/>
<rect x="1164.5" y="1123.08" width="19" height="19" fill="#FF1E0E"/>
<rect x="1166.4" y="1132.58" width="15.2" height="7.6" fill="#fff"/>
<path d="M1224.55,795 L1237.15,781.9 L1249.75,795 L1237.15,808.1 Z" fill="#fff" stroke="#A01C66" stroke-width="2"/>
<path d="M1224.55,795 L1237.15,781.9 L1249.75,795 Z" fill="#A01C66"/>
<circle cx="1237.15" cy="886.45" r="9.3" fill="#fff" stroke="#E070F2" stroke-width="2"/>
<path d="M1226.85,886.45 A10.3,10.3 0 0 1 1247.45,886.45 Z" fill="#E070F2"/>
<rect x="1227.65" y="1123.08" width="19" height="19" fill="#FF1E0E"/>
<rect x="1229.55" y="1132.58" width="15.2" height="7.6" fill="#fff"/>
<path d="M1287.7,794.54 L1300.3,781.44 L1312.9,794.54 L1300.3,807.64 Z" fill="#fff" stroke="#A01C66" stroke-width="2"/>
<path d="M1287.7,794.54 L1300.3,781.44 L1312.9,794.54 Z" fill="#A01C66"/>
<circle cx="1300.3" cy="884.63" r="9.3" fill="#fff" stroke="#E070F2" stroke-width="2"/>
<path d="M1290,884.63 A10.3,10.3 0 0 1 1310.6,884.63 Z" fill="#E070F2"/>
<rect x="1290.8" y="1123.08" width="19" height="19" fill="#FF1E0E"/>
<rect x="1292.7" y="1132.58" width="15.2" height="7.6" fill="#fff"/>
<path d="M1350.85,793.63 L1363.45,780.53 L1376.05,793.63 L1363.45,806.73 Z" fill="#fff" stroke="#A01C66" stroke-width="2"/>
<path d="M1350.85,793.63 L1363.45,780.53 L1376.05,793.63 Z" fill="#A01C66"/>
<circle cx="1363.45" cy="883.72" r="9.3" fill="#fff" stroke="#E070F2" stroke-width="2"/>
<path d="M1353.15,883.72 A10.3,10.3 0 0 1 1373.75,883.72 Z" fill="#E070F2"/>
<rect x="1353.95" y="1123.08" width="19" height="19" fill="#FF1E0E"/>
<rect x="1355.85" y="1132.58" width="15.2" height="7.6" fill="#fff"/>
<path d="M1414,793.17 L1426.6,780.07 L1439.2,793.17 L1426.6,806.27 Z" fill="#fff" stroke="#A01C66" stroke-width="2"/>
<path d="M1414,793.17 L1426.6,780.07 L1439.2,793.17 Z" fill="#A01C66"/>
<circle cx="1426.6" cy="882.81" r="9.3" fill="#fff" stroke="#E070F2" stroke-width="2"/>
<path d="M1416.3,882.81 A10.3,10.3 0 0 1 1436.9,882.81 Z" fill="#E070F2"/>
<rect x="1417.1" y="1123.08" width="19" height="19" fill="#FF1E0E"/>
<rect x="1419" y="1132.58" width="15.2" height="7.6" fill="#fff"/>
<path d="M1477.15,792.26 L1489.75,779.16 L1502.35,792.26 L1489.75,805.37 Z" fill="#fff" stroke="#A01C66" stroke-width="2"/>
<path d="M1477.15,792.26 L1489.75,779.16 L1502.35,792.26 Z" fill="#A01C66"/>
<circle cx="1489.75" cy="882.81" r="9.3" fill="#fff" stroke="#E070F2" stroke-width="2"/>
<path d="M1479.45,882.81 A10.3,10.3 0 0 1 1500.05,882.81 Z" fill="#E070F2"/>
<rect x="1480.25" y="1123.08" width="19" height="19" fill="#FF1E0E"/>
<rect x="1482.15" y="1132.58" width="15.2" height="7.6" fill="#fff"/>
<path d="M1540.3,791.58 L1552.9,778.48 L1565.5,791.58 L1552.9,804.68 Z" fill="#fff" stroke="#A01C66" stroke-width="2"/>
<path d="M1540.3,791.58 L1552.9,778.48 L1565.5,791.58 Z" fill="#A01C66"/>
<circle cx="1552.9" cy="882.81" r="9.3" fill="#fff" stroke="#E070F2" stroke-width="2"/>
<path d="M1542.6,882.81 A10.3,10.3 0 0 1 1563.2,882.81 Z" fill="#E070F2"/>
<rect x="1543.4" y="1123.08" width="19" height="19" fill="#FF1E0E"/>
<rect x="1545.3" y="1132.58" width="15.2" height="7.6" fill="#fff"/>
<path d="M1603.45,791.13 L1616.05,778.03 L1628.65,791.13 L1616.05,804.23 Z" fill="#fff" stroke="#A01C66" stroke-width="2"/>
<path d="M1603.45,791.13 L1616.05,778.03 L1628.65,791.13 Z" fill="#A01C66"/>
<circle cx="1616.05" cy="882.36" r="9.3" fill="#fff" stroke="#E070F2" stroke-width="2"/>
<path d="M1605.75,882.36 A10.3,10.3 0 0 1 1626.35,882.36 Z" fill="#E070F2"/>
<rect x="1606.55" y="1123.08" width="19" height="19" fill="#FF1E0E"/>
<rect x="1608.45" y="1132.58" width="15.2" height="7.6" fill="#fff"/>
<path d="M1135.5,791.5 C1134.5,775 1118,763 1077,757.3" fill="none" stroke="#A01C66" stroke-width="2.9"/>
<path d="M1051.3,756.5 L1078.7,749.7 L1078.7,763.3 Z" fill="#A01C66"/>
<path d="M1143.7,885.5 C1143.5,869 1127,858 1086.5,852.8" fill="none" stroke="#E070F2" stroke-width="2.9"/>
<path d="M1061.3,850.4 L1088,844.1 L1088,857.9 Z" fill="#E070F2"/>
<path d="M1513.2,1127.5 C1513.5,1110 1526,1098 1565,1091" fill="none" stroke="#FF1E0E" stroke-width="3.2"/>
<path d="M1590.8,1090.1 L1563.5,1083.5 L1563.5,1096.7 Z" fill="#FF1E0E"/>
<line x1="1047.7" y1="1209.5" x2="1047.7" y2="1218.5" stroke="#000" stroke-width="3"/>
<text transform="translate(1047.3,1250.3) scale(0.96,1)" font-size="32.7" text-anchor="middle">12</text>
<line x1="1110.85" y1="1209.5" x2="1110.85" y2="1218.5" stroke="#000" stroke-width="3"/>
<text transform="translate(1110.45,1250.3) scale(0.96,1)" font-size="32.7" text-anchor="middle">24</text>
<line x1="1174" y1="1209.5" x2="1174" y2="1218.5" stroke="#000" stroke-width="3"/>
<text transform="translate(1173.6,1250.3) scale(0.96,1)" font-size="32.7" text-anchor="middle">36</text>
<line x1="1237.15" y1="1209.5" x2="1237.15" y2="1218.5" stroke="#000" stroke-width="3"/>
<text transform="translate(1236.75,1250.3) scale(0.96,1)" font-size="32.7" text-anchor="middle">48</text>
<line x1="1300.3" y1="1209.5" x2="1300.3" y2="1218.5" stroke="#000" stroke-width="3"/>
<text transform="translate(1299.9,1250.3) scale(0.96,1)" font-size="32.7" text-anchor="middle">60</text>
<line x1="1363.45" y1="1209.5" x2="1363.45" y2="1218.5" stroke="#000" stroke-width="3"/>
<text transform="translate(1363.05,1250.3) scale(0.96,1)" font-size="32.7" text-anchor="middle">72</text>
<line x1="1426.6" y1="1209.5" x2="1426.6" y2="1218.5" stroke="#000" stroke-width="3"/>
<text transform="translate(1426.2,1250.3) scale(0.96,1)" font-size="32.7" text-anchor="middle">84</text>
<line x1="1489.75" y1="1209.5" x2="1489.75" y2="1218.5" stroke="#000" stroke-width="3"/>
<text transform="translate(1489.35,1250.3) scale(0.96,1)" font-size="32.7" text-anchor="middle">96</text>
<line x1="1552.9" y1="1209.5" x2="1552.9" y2="1218.5" stroke="#000" stroke-width="3"/>
<text transform="translate(1552.5,1250.3) scale(0.96,1)" font-size="32.7" text-anchor="middle">108</text>
<line x1="1616.05" y1="1209.5" x2="1616.05" y2="1218.5" stroke="#000" stroke-width="3"/>
<text transform="translate(1615.65,1250.3) scale(0.96,1)" font-size="32.7" text-anchor="middle">120</text>
<text transform="translate(993.7,1218.5) scale(0.955,1)" font-size="32.5" text-anchor="end">0</text>
<line x1="1001.4" y1="1118.5" x2="1011.4" y2="1118.5" stroke="#000" stroke-width="3"/>
<text transform="translate(993.7,1127.5) scale(0.955,1)" font-size="32.5" text-anchor="end">20</text>
<line x1="1001.4" y1="1027.5" x2="1011.4" y2="1027.5" stroke="#000" stroke-width="3"/>
<text transform="translate(993.7,1036.5) scale(0.955,1)" font-size="32.5" text-anchor="end">40</text>
<line x1="1001.4" y1="936.5" x2="1011.4" y2="936.5" stroke="#000" stroke-width="3"/>
<text transform="translate(993.7,945.5) scale(0.955,1)" font-size="32.5" text-anchor="end">60</text>
<line x1="1001.4" y1="845.5" x2="1011.4" y2="845.5" stroke="#000" stroke-width="3"/>
<text transform="translate(993.7,854.5) scale(0.955,1)" font-size="32.5" text-anchor="end">80</text>
<line x1="1001.4" y1="754.5" x2="1011.4" y2="754.5" stroke="#000" stroke-width="3"/>
<text transform="translate(993.7,763.5) scale(0.955,1)" font-size="32.5" text-anchor="end">100</text>
<line x1="1005.4" y1="1164" x2="1011.4" y2="1164" stroke="#000" stroke-width="3"/>
<line x1="1005.4" y1="1073" x2="1011.4" y2="1073" stroke="#000" stroke-width="3"/>
<line x1="1005.4" y1="982" x2="1011.4" y2="982" stroke="#000" stroke-width="3"/>
<line x1="1005.4" y1="891" x2="1011.4" y2="891" stroke="#000" stroke-width="3"/>
<line x1="1005.4" y1="800" x2="1011.4" y2="800" stroke="#000" stroke-width="3"/>
<line x1="1642.5" y1="1209.5" x2="1652.5" y2="1209.5" stroke="#FF1E0E" stroke-width="3"/>
<text transform="translate(1658,1218.5) scale(0.955,1)" font-size="32.5" fill="#FF1E0E">0</text>
<line x1="1642.5" y1="1132.58" x2="1652.5" y2="1132.58" stroke="#FF1E0E" stroke-width="3"/>
<text transform="translate(1658,1141.58) scale(0.955,1)" font-size="32.5" fill="#FF1E0E">10</text>
<line x1="1642.5" y1="1055.66" x2="1652.5" y2="1055.66" stroke="#FF1E0E" stroke-width="3"/>
<text transform="translate(1658,1064.66) scale(0.955,1)" font-size="32.5" fill="#FF1E0E">20</text>
<line x1="1642.5" y1="978.74" x2="1652.5" y2="978.74" stroke="#FF1E0E" stroke-width="3"/>
<text transform="translate(1658,987.74) scale(0.955,1)" font-size="32.5" fill="#FF1E0E">30</text>
<line x1="1642.5" y1="901.82" x2="1652.5" y2="901.82" stroke="#FF1E0E" stroke-width="3"/>
<text transform="translate(1658,910.82) scale(0.955,1)" font-size="32.5" fill="#FF1E0E">40</text>
<line x1="1642.5" y1="824.9" x2="1652.5" y2="824.9" stroke="#FF1E0E" stroke-width="3"/>
<text transform="translate(1658,833.9) scale(0.955,1)" font-size="32.5" fill="#FF1E0E">50</text>
<line x1="1642.5" y1="747.98" x2="1652.5" y2="747.98" stroke="#FF1E0E" stroke-width="3"/>
<text transform="translate(1658,756.98) scale(0.955,1)" font-size="32.5" fill="#FF1E0E">60</text>
<line x1="1642.5" y1="1171.04" x2="1648.5" y2="1171.04" stroke="#FF1E0E" stroke-width="3"/>
<line x1="1642.5" y1="1094.12" x2="1648.5" y2="1094.12" stroke="#FF1E0E" stroke-width="3"/>
<line x1="1642.5" y1="1017.2" x2="1648.5" y2="1017.2" stroke="#FF1E0E" stroke-width="3"/>
<line x1="1642.5" y1="940.28" x2="1648.5" y2="940.28" stroke="#FF1E0E" stroke-width="3"/>
<line x1="1642.5" y1="863.36" x2="1648.5" y2="863.36" stroke="#FF1E0E" stroke-width="3"/>
<line x1="1642.5" y1="786.44" x2="1648.5" y2="786.44" stroke="#FF1E0E" stroke-width="3"/>
<line x1="1642.5" y1="709.52" x2="1648.5" y2="709.52" stroke="#FF1E0E" stroke-width="3"/>
<text transform="translate(1135,1294) scale(0.985,1)" font-size="43.5">Time on stream (h)</text>
<text transform="translate(891.2,1198.9) rotate(-90) scale(0.809,1)" font-size="43" stroke="#000" stroke-width="0.7">PX selectivity in xylene (%) or</text>
<text transform="translate(939.5,1198.1) rotate(-90) scale(0.809,1)" font-size="43" stroke="#000" stroke-width="0.7">Aromatics distribution (%)</text>
<text transform="translate(1739.6,959.5) rotate(-90) scale(0.828,1)" font-size="43" text-anchor="middle" fill="#FF1E0E" stroke="#FF1E0E" stroke-width="0.7">Toluene conv. (%)</text>
</svg></body></html>
